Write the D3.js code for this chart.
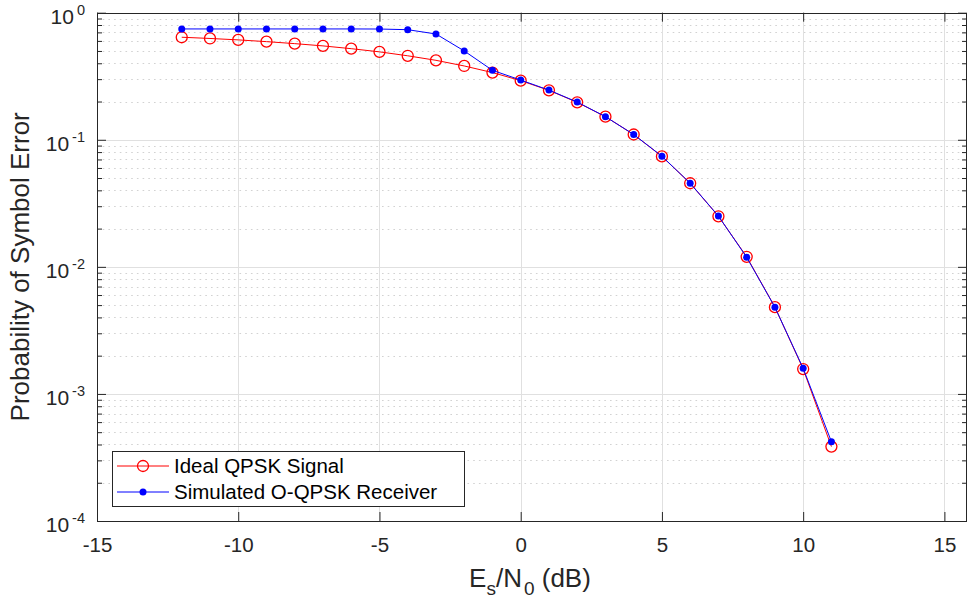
<!DOCTYPE html>
<html>
<head>
<meta charset="utf-8">
<script src="https://cdn.jsdelivr.net/npm/d3@7"></script>
<style>
html,body{margin:0;padding:0;background:#fff;}
svg{display:block;font-family:"Liberation Sans",Arial,Helvetica,sans-serif;}
</style>
</head>
<body>
<svg id="chart" width="969" height="598"></svg>
<script>
// ---- data ----
const snrDb = [-12,-11,-10,-9,-8,-7,-6,-5,-4,-3,-2,-1,0,1,2,3,4,5,6,7,8,9,10,11];
const idealSER = [0.641,0.627,0.611,0.592,0.571,0.548,0.521,0.492,0.458,0.422,0.381,0.338,0.292,0.245,0.197,0.152,0.110,0.0740,0.0455,0.0250,0.0120,0.00482,0.00157,0.000385];
const simSER = [0.745,0.745,0.745,0.745,0.745,0.745,0.745,0.744,0.735,0.680,0.500,0.352,0.295,0.246,0.198,0.152,0.110,0.0742,0.0455,0.0251,0.0119,0.00481,0.00159,0.000421];
const xTicks = [-15,-10,-5,0,5,10,15];
const yExponents = [0,-1,-2,-3,-4];
const seriesNames = ["Ideal QPSK Signal","Simulated O-QPSK Receiver"];

// ---- layout ----
const svg = d3.select("#chart");
const L = 97, R = 967, T = 12.7, B = 521;
const x = d3.scaleLinear().domain([-15, 15.8]).range([L, R]);
const y = d3.scaleLog().domain([1e-4, 1]).range([B, T]);
const axisColor = "#262626";

// minor grid (y)
const minorVals = [];
yExponents.slice(1).forEach(e => { for (let m = 2; m <= 9; m++) minorVals.push(m * Math.pow(10, e)); });
svg.append("g").selectAll("line").data(minorVals).join("line")
  .attr("x1", L).attr("x2", R)
  .attr("y1", d => Math.round(y(d)) + 0.5).attr("y2", d => Math.round(y(d)) + 0.5)
  .attr("stroke", "#d2d2d2").attr("stroke-width", 1.2)
  .attr("stroke-dasharray", "1.6,4.1");

// major grid
const grid = svg.append("g");
grid.selectAll(".gx").data(xTicks).join("line")
  .attr("x1", d => Math.round(x(d)) + 0.5).attr("x2", d => Math.round(x(d)) + 0.5)
  .attr("y1", T).attr("y2", B)
  .attr("stroke", "#e0e0e0").attr("stroke-width", 1);
grid.selectAll(".gy").data(yExponents.map(e => Math.pow(10, e))).join("line")
  .attr("x1", L).attr("x2", R)
  .attr("y1", d => Math.round(y(d)) + 0.5).attr("y2", d => Math.round(y(d)) + 0.5)
  .attr("stroke", "#e0e0e0").attr("stroke-width", 1);

// axes via d3 axis (inward ticks)
const xAxisB = d3.axisBottom(x).tickValues(xTicks).tickSizeInner(-9).tickSizeOuter(0).tickFormat(d => d);
const gxb = svg.append("g").attr("transform", `translate(0,${B})`).call(xAxisB);
gxb.select(".domain").remove();
gxb.selectAll("line").attr("stroke", axisColor);
gxb.selectAll("text").attr("y", 31).attr("dy", 0).attr("fill", axisColor)
  .style("font-size", "20.5px").style("font-family", "Liberation Sans, Arial, sans-serif");

const xAxisT = d3.axisTop(x).tickValues(xTicks).tickSizeInner(-9).tickSizeOuter(0).tickFormat("");
const gxt = svg.append("g").attr("transform", `translate(0,${T})`).call(xAxisT);
gxt.select(".domain").remove();
gxt.selectAll("line").attr("stroke", axisColor);

const majorY = yExponents.map(e => Math.pow(10, e));
const yAxisL = d3.axisLeft(y).tickValues(majorY).tickSizeInner(-9).tickSizeOuter(0).tickFormat("");
const gyl = svg.append("g").attr("transform", `translate(${L},0)`).call(yAxisL);
gyl.select(".domain").remove();
gyl.selectAll("line").attr("stroke", axisColor);
const yAxisR = d3.axisRight(y).tickValues(majorY).tickSizeInner(-9).tickSizeOuter(0).tickFormat("");
const gyr = svg.append("g").attr("transform", `translate(${R},0)`).call(yAxisR);
gyr.select(".domain").remove();
gyr.selectAll("line").attr("stroke", axisColor);
// minor ticks
const yMinL = d3.axisLeft(y).tickValues(minorVals).tickSizeInner(-5).tickSizeOuter(0).tickFormat("");
const gml = svg.append("g").attr("transform", `translate(${L},0)`).call(yMinL);
gml.select(".domain").remove(); gml.selectAll("line").attr("stroke", axisColor);
const yMinR = d3.axisRight(y).tickValues(minorVals).tickSizeInner(-5).tickSizeOuter(0).tickFormat("");
const gmr = svg.append("g").attr("transform", `translate(${R},0)`).call(yMinR);
gmr.select(".domain").remove(); gmr.selectAll("line").attr("stroke", axisColor);

// y tick labels 10^e
const ylab = svg.append("g").selectAll("text").data(yExponents).join("text")
  .attr("x", 85).attr("y", d => y(Math.pow(10, d)) + 11)
  .attr("text-anchor", "end").attr("fill", axisColor)
  .style("font-size", "21px");
ylab.append("tspan").text("10");
ylab.append("tspan").attr("dx", 3).attr("dy", -9).style("font-size", "14.5px").text(d => d);

// box
svg.append("rect").attr("x", L + 0.5).attr("y", Math.round(T) + 0.5)
  .attr("width", R - L - 1).attr("height", B - Math.round(T))
  .attr("fill", "none").attr("stroke", axisColor).attr("stroke-width", 1);

// series
const line = d3.line().x(d => x(d[0])).y(d => y(d[1]));
const idealPts = snrDb.map((s, i) => [s, idealSER[i]]);
const simPts = snrDb.map((s, i) => [s, simSER[i]]);

svg.append("path").datum(idealPts).attr("d", line)
  .attr("fill", "none").attr("stroke", "#ff0000").attr("stroke-width", 1);
svg.append("g").selectAll("circle").data(idealPts).join("circle")
  .attr("cx", d => x(d[0])).attr("cy", d => y(d[1])).attr("r", 5.5)
  .attr("fill", "none").attr("stroke", "#ff0000").attr("stroke-width", 1.3);

svg.append("path").datum(simPts).attr("d", line)
  .attr("fill", "none").attr("stroke", "#0000ff").attr("stroke-width", 1);
svg.append("g").selectAll("circle").data(simPts).join("circle")
  .attr("cx", d => x(d[0])).attr("cy", d => y(d[1])).attr("r", 3.5)
  .attr("fill", "#0000ff");

// axis labels
const xl = svg.append("text").attr("x", 530).attr("y", 587)
  .attr("text-anchor", "middle").attr("fill", axisColor).style("font-size", "26px");
xl.append("tspan").text("E");
xl.append("tspan").attr("dy", 8).style("font-size", "19px").text("s");
xl.append("tspan").attr("dy", -8).text("/N");
xl.append("tspan").attr("dy", 8).attr("dx", 2).style("font-size", "19px").text("0");
xl.append("tspan").attr("dy", -8).text(" (dB)");

svg.append("text").attr("transform", `translate(29,${(T + B) / 2}) rotate(-90)`)
  .attr("text-anchor", "middle").attr("fill", axisColor).style("font-size", "26px")
  .text("Probability of Symbol Error");

// legend
const lg = svg.append("g");
lg.append("rect").attr("x", 112.5).attr("y", 451.5).attr("width", 352).attr("height", 55)
  .attr("fill", "#fff").attr("stroke", axisColor).attr("stroke-width", 1);
const rows = [
  {name: seriesNames[0], color: "#ff0000", type: "circle", yy: 466},
  {name: seriesNames[1], color: "#0000ff", type: "dot", yy: 492}
];
rows.forEach(r => {
  lg.append("line").attr("x1", 117).attr("x2", 169).attr("y1", r.yy).attr("y2", r.yy)
    .attr("stroke", r.color).attr("stroke-width", 1);
  if (r.type === "circle") {
    lg.append("circle").attr("cx", 143).attr("cy", r.yy).attr("r", 5.5)
      .attr("fill", "none").attr("stroke", r.color).attr("stroke-width", 1.3);
  } else {
    lg.append("circle").attr("cx", 143).attr("cy", r.yy).attr("r", 3.5).attr("fill", r.color);
  }
  lg.append("text").attr("x", 174).attr("y", r.yy + 7).attr("fill", "#000")
    .style("font-size", "20.5px").text(r.name);
});
</script>
</body>
</html>
